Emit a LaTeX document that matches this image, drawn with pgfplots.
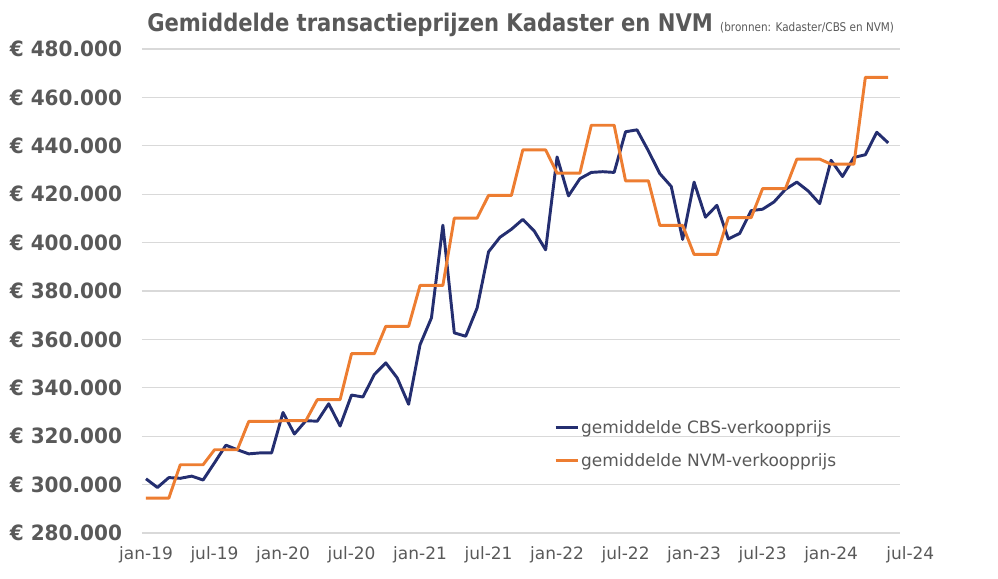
\documentclass[border=0pt]{standalone}
\usepackage{fontspec}
\setmainfont{DejaVu Sans}
\newfontfamily\titlefont[FakeStretch=0.87]{DejaVu Sans}
\newfontfamily\tickfont[FakeStretch=0.95]{DejaVu Sans}
\usepackage{pgfplots}
\usepackage{pgfplotstable}
\pgfplotsset{compat=1.18}
\definecolor{cbsblue}{RGB}{36,46,112}
\definecolor{nvmorange}{RGB}{237,125,49}
\definecolor{txtgrey}{RGB}{89,89,89}
\definecolor{gridgrey}{RGB}{217,217,217}

\pgfplotstableread{
idx cbs nvm
0 302400 294400
1 298800 294400
2 302900 294400
3 302600 308200
4 303500 308200
5 301900 308200
6 309000 314400
7 316300 314400
8 314400 314400
9 312700 326100
10 313100 326100
11 313100 326100
12 329800 326400
13 320900 326400
14 326400 326400
15 326200 335100
16 333400 335100
17 324200 335100
18 337000 354100
19 336200 354100
20 345500 354100
21 350300 365400
22 344100 365400
23 333200 365400
24 357800 382300
25 368900 382300
26 407200 382300
27 362700 410100
28 361300 410100
29 373000 410100
30 396200 419500
31 402200 419500
32 405500 419500
33 409600 438300
34 404800 438300
35 397000 438300
36 435400 428700
37 419300 428700
38 426400 428700
39 429000 448500
40 429300 448500
41 429000 448500
42 445800 425500
43 446600 425500
44 437900 425500
45 428500 407100
46 423200 407100
47 401300 407100
48 425000 395100
49 410500 395100
50 415400 395100
51 401500 410300
52 403800 410300
53 413200 410300
54 413800 422300
55 416800 422300
56 422000 422300
57 425000 434500
58 421300 434500
59 416100 434500
60 434000 432400
61 427300 432400
62 435200 432400
63 436300 468300
64 445600 468300
65 441200 468300
}\datatable

\begin{document}
\begin{tikzpicture}
\useasboundingbox (-106.5pt,-33.75pt) rectangle (642pt,399.75pt);
\begin{axis}[
  at={(0,0)}, anchor=south west,
  scale only axis, width=568.2pt, height=363pt,
  xmin=-0.35, xmax=66, ymin=280000, ymax=480000,
  axis line style={draw=none},
  major tick length=0pt,
  scaled y ticks=false,
  ytick={280000,300000,320000,340000,360000,380000,400000,420000,440000,460000,480000},
  yticklabels={€ 280.000,€ 300.000,€ 320.000,€ 340.000,€ 360.000,€ 380.000,€ 400.000,€ 420.000,€ 440.000,€ 460.000,€ 480.000},
  ymajorgrids, grid style={gridgrey, line width=0.9pt},
  xtick={0,6,12,18,24,30,36,42,48,54,60,66},
  xticklabels={jan-19,jul-19,jan-20,jul-20,jan-21,jul-21,jan-22,jul-22,jan-23,jul-23,jan-24,\hspace*{16pt}jul-24},
  x tick label style={font=\fontsize{12.75}{14}\selectfont, text=txtgrey, yshift=-7pt},
  y tick label style={font=\tickfont\fontsize{15.8}{17}\selectfont\bfseries, text=txtgrey, xshift=-11.5pt},
  legend style={at={(0.5385,0.2445)}, anchor=north west, draw=none, fill=none,
    font=\fontsize{12.75}{14}\selectfont, text=txtgrey, row sep=9.5pt,
    nodes={inner xsep=1pt}},
  legend cell align=left,
  legend image code/.code={\draw[#1] (0pt,0pt) -- (17pt,0pt);},
  clip=false,
]
\addplot[cbsblue, line width=2.2pt, line join=round] table[x=idx, y=cbs] {\datatable};
\addlegendentry{gemiddelde CBS-verkoopprijs}
\addplot[nvmorange, line width=2.2pt, line join=round] table[x=idx, y=nvm] {\datatable};
\addlegendentry{gemiddelde NVM-verkoopprijs}
\end{axis}
\node[anchor=base, text=txtgrey, inner sep=0pt] at (284pt,375.75pt)
  {\titlefont\fontsize{18.2}{20}\selectfont\bfseries Gemiddelde transactieprijzen Kadaster en NVM \fontsize{9}{10}\selectfont\mdseries (bronnen: Kadaster/CBS en NVM)};
\end{tikzpicture}
\end{document}
